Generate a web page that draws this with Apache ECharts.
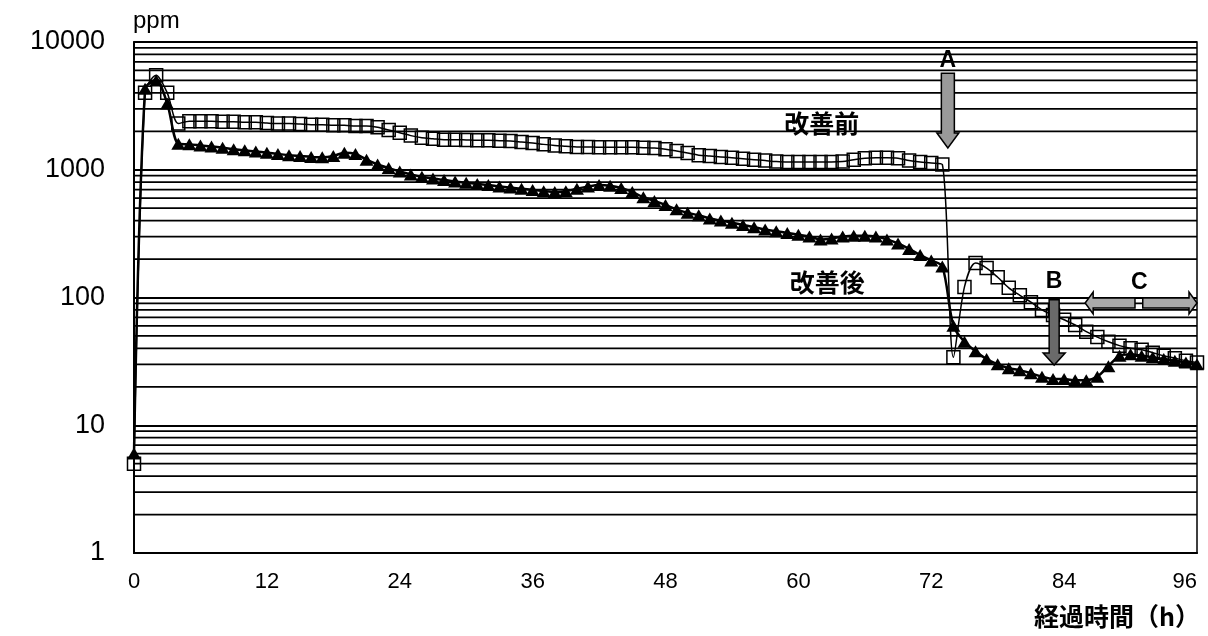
<!DOCTYPE html>
<html><head><meta charset="utf-8">
<script src="https://cdn.jsdelivr.net/npm/echarts@6/dist/echarts.min.js"></script>
<style>html,body{margin:0;padding:0;background:#fff}#c{width:1208px;height:636px}</style>
</head><body><div id="c"></div>
<script>
// ---- data ----
const hours = [0,1,2,3,4,5,6,7,8,9,10,11,12,13,14,15,16,17,18,19,20,21,22,23,24,25,26,27,28,29,30,31,32,33,34,35,36,37,38,39,40,41,42,43,44,45,46,47,48,49,50,51,52,53,54,55,56,57,58,59,60,61,62,63,64,65,66,67,68,69,70,71,72,73,74,75,76,77,78,79,80,81,82,83,84,85,86,87,88,89,90,91,92,93,94,95,96];
const before = [5,4000,5500,4000,2300,2400,2400,2400,2380,2380,2350,2350,2320,2300,2300,2280,2250,2250,2230,2230,2200,2200,2150,2050,1950,1850,1780,1750,1720,1720,1710,1700,1700,1690,1680,1650,1620,1580,1550,1530,1510,1510,1500,1500,1500,1500,1490,1480,1450,1400,1350,1300,1280,1260,1240,1220,1200,1180,1160,1150,1150,1150,1150,1150,1160,1200,1230,1240,1240,1230,1180,1150,1130,1100,34,121,186,170,144,119,104,92,80,73,67,61,54,49,45,42,40,39,37,35,33.5,32,31];
const after = [6,4300,5000,3300,1600,1580,1550,1520,1490,1450,1420,1390,1360,1330,1300,1280,1260,1250,1280,1360,1330,1200,1100,1030,970,920,880,855,830,810,790,775,760,740,725,710,695,680,670,680,710,740,760,750,720,670,610,570,530,490,460,440,415,400,385,370,355,340,330,320,310,300,285,290,300,305,305,300,285,265,240,215,195,175,60,45,38,33,30,28,27,25.5,24,23,23,22.5,22.5,24,29,35,36,35,34,33,32,31,30];
const seriesNames = ['改善前','改善後'];
const xTicks = [0,12,24,36,48,60,72,84,96];
const yTicks = [1,10,100,1000,10000];
const minorGrid = [2,3,4,5,6,7,8,9,20,30,40,50,60,70,80,90,200,300,400,500,600,700,800,900,2000,3000,4000,5000,6000,7000,8000,9000];
// annotation anchors in data space
const downArrows = [[73.5,5700,1480],[83.1,96,29.6]];          // x, top, tip
const sideArrows = [[85.9,90.4,90.6],[96,91.1,90.6]];           // tip x, tail x, y
const notes = [['改善前',62.1,2320],['改善後',62.6,130],['A',73.5,7100],['B',83.1,132],['C',90.8,130]];
const xName = '経過時間（h）';
const yName = 'ppm';

const chart = echarts.init(document.getElementById('c'));
const LEFT = 134, RIGHT = 11, TOP = 42, BOTTOM = 83;

chart.setOption({
  animation: false,
  backgroundColor: '#fff',
  grid: {left: LEFT, right: RIGHT, top: TOP, bottom: BOTTOM, show: true, borderColor: '#000', borderWidth: 1.5},
  xAxis: {
    type: 'value', min: xTicks[0], max: xTicks[xTicks.length-1], interval: 12,
    axisLine: {show: true, lineStyle: {color: '#000', width: 2}},
    axisTick: {show: false},
    splitLine: {show: false},
    axisLabel: {color: '#000', fontSize: 22, fontFamily: 'Liberation Sans', margin: 18, alignMaxLabel: 'right',
      formatter: v => String(v)}
  },
  yAxis: {
    type: 'log', logBase: 10, min: yTicks[0], max: yTicks[yTicks.length-1],
    axisLine: {show: true, lineStyle: {color: '#000', width: 2}},
    axisTick: {show: false},
    splitLine: {show: true, lineStyle: {color: '#000', width: 1.8}},
    axisLabel: {color: '#000', fontSize: 27, fontFamily: 'Liberation Sans', margin: 29,
      formatter: v => String(Math.round(v))}
  },
  graphic: [
    {type: 'text', left: 133, top: 9, style: {text: yName, fontSize: 24, fontFamily: 'Liberation Sans', fill: '#000'}},
    {type: 'text', right: 8, top: 604, style: {text: xName, fontSize: 25, fontWeight: 'bold', fontFamily: 'Noto Sans CJK JP', fill: '#000'}}
  ],
  series: [
    {
      type: 'custom', name: 'grid', z: 1, silent: true,
      data: minorGrid.map(v => [0, v]),
      renderItem: function (params, api) {
        const v = api.value(1);
        const a = api.coord([xTicks[0], v]);
        const b = api.coord([xTicks[xTicks.length-1], v]);
        return {type: 'line', shape: {x1: a[0], y1: a[1], x2: b[0], y2: b[1]}, style: {stroke: '#000', lineWidth: 1.8}};
      }
    },
    {
      name: seriesNames[0], type: 'line', z: 3, smooth: 0.3,
      data: hours.map((h, i) => [h, before[i]]),
      symbol: 'rect', symbolSize: 13,
      itemStyle: {color: 'rgba(255,255,255,0)', borderColor: '#000', borderWidth: 1.5},
      lineStyle: {color: '#000', width: 1.5}
    },
    {
      name: seriesNames[1], type: 'line', z: 4, smooth: 0.3,
      data: hours.map((h, i) => [h, after[i]]),
      symbol: 'triangle', symbolSize: [14, 12],
      itemStyle: {color: '#000'},
      lineStyle: {color: '#000', width: 2.5}
    },
    {
      type: 'custom', name: 'down', z: 6, silent: true,
      data: downArrows,
      renderItem: function (params, api) {
        const t = api.coord([api.value(0), api.value(1)]);
        const p = api.coord([api.value(0), api.value(2)]);
        const big = params.dataIndex === 0;
        const sw = big ? 6.5 : 5, hw = 11, hl = big ? 15 : 12;
        const x = p[0];
        return {type: 'polygon', shape: {points: [
          [x-sw, t[1]], [x+sw, t[1]], [x+sw, p[1]-hl], [x+hw, p[1]-hl], [x, p[1]], [x-hw, p[1]-hl], [x-sw, p[1]-hl]
        ]}, style: {fill: big ? '#9a9a9a' : '#6a6a6a', stroke: '#000', lineWidth: 1.5}};
      }
    },
    {
      type: 'custom', name: 'side', z: 6, silent: true,
      data: sideArrows,
      renderItem: function (params, api) {
        const tip = api.coord([api.value(0), api.value(2)]);
        const tail = api.coord([api.value(1), api.value(2)]);
        const dir = tail[0] > tip[0] ? 1 : -1;
        const sw = 5, hw = 11, hl = 8, y = tip[1], x = tip[0];
        return {type: 'polygon', shape: {points: [
          [x, y], [x+dir*hl, y-hw], [x+dir*hl, y-sw], [tail[0], y-sw], [tail[0], y+sw], [x+dir*hl, y+sw], [x+dir*hl, y+hw]
        ]}, style: {fill: '#aaaaaa', stroke: '#000', lineWidth: 1.5}};
      }
    },
    {
      type: 'custom', name: 'notes', z: 7, silent: true,
      data: notes.map(n => [n[1], n[2]]),
      renderItem: function (params, api) {
        const p = api.coord([api.value(0), api.value(1)]);
        const txt = notes[params.dataIndex][0];
        const cjk = txt.length > 1;
        return {type: 'text', x: p[0], y: p[1], style: {
          text: txt, align: 'center', verticalAlign: 'middle',
          fontSize: cjk ? 25 : 23, fontWeight: 'bold',
          fontFamily: cjk ? 'Noto Sans CJK JP' : 'Liberation Sans', fill: '#000'
        }};
      }
    }
  ]
});
</script>
</body></html>
